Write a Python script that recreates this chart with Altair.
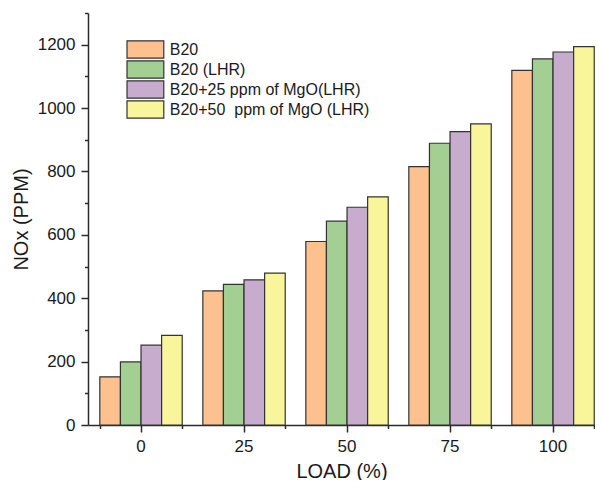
import altair as alt
import pandas as pd

loads = ["0", "25", "50", "75", "100"]
series = ["B20", "B20 (LHR)", "B20+25 ppm of MgO(LHR)", "B20+50\u00a0 ppm of MgO (LHR)"]
b20 = [152, 423, 579, 815, 1119]
b20_lhr = [199, 444, 643, 889, 1155]
mgo25_lhr = [252, 458, 687, 926, 1177]
mgo50_lhr = [283, 479, 720, 950, 1194]
colors = ["#FDC18F", "#A3CF92", "#C8ACCE", "#F9F59B"]
y_major = [0, 200, 400, 600, 800, 1000, 1200]
y_minor = [100, 300, 500, 700, 900, 1100, 1300]

rows = []
for s, vals in zip(series, [b20, b20_lhr, mgo25_lhr, mgo50_lhr]):
    for l, v in zip(loads, vals):
        rows.append({"load": l, "series": s, "nox": v})
df = pd.DataFrame(rows)

FONT = "Liberation Sans"
TXT = "#1a1a1a"
AX = "#2b2b2b"

xscale = alt.Scale(type="band", paddingInner=0.2, paddingOuter=0.061, align=0.94)
yscale = alt.Scale(domain=[0, 1300], nice=False, zero=True)

bars = alt.Chart(df).mark_bar(stroke="#333333", strokeWidth=1.2, opacity=1).encode(
    x=alt.X("load:N", sort=loads, scale=xscale,
            axis=alt.Axis(title="LOAD (%)", labelAngle=0, tickSize=7, tickWidth=1.5,
                          domainWidth=1.5, domainColor=AX, tickColor=AX,
                          labelPadding=6, titlePadding=7, grid=False)),
    xOffset=alt.XOffset("series:N", sort=series,
                        scale=alt.Scale(paddingInner=0, paddingOuter=0)),
    y=alt.Y("nox:Q", scale=yscale, stack=None,
            axis=alt.Axis(title="NOx (PPM)", values=y_major, format="d", tickSize=7,
                          tickWidth=1.5, domainWidth=1.5, domainColor=AX, tickColor=AX,
                          labelPadding=6, titlePadding=6, grid=False)),
    color=alt.Color("series:N", sort=series,
                    scale=alt.Scale(domain=series, range=colors),
                    legend=alt.Legend(title=None, orient="none", legendX=49.4, legendY=28.5,
                                      symbolType="M-4,-1.88H4V1.88H-4Z", symbolSize=84.6,
                                      symbolStrokeColor="#333333", symbolStrokeWidth=1.2,
                                      symbolOpacity=1, labelFont=FONT, labelFontSize=16,
                                      labelColor=TXT, labelOffset=16.4, rowPadding=-5,
                                      padding=0, labelLimit=400)),
)

minor = alt.Chart(df).mark_point(opacity=0).encode(
    x=alt.X("load:N", sort=loads, scale=xscale,
            axis=alt.Axis(orient="bottom", tickBand="extent", labels=False, domain=False,
                          tickSize=3.5, tickWidth=1.5, tickColor=AX, title=None, grid=False)),
    y=alt.Y("nox:Q", scale=yscale,
            axis=alt.Axis(orient="left", values=y_minor, labels=False, domain=False,
                          tickSize=3.5, tickWidth=1.5, tickColor=AX, title=None, grid=False)),
)

chart = alt.layer(bars, minor).resolve_axis(x="independent", y="independent").properties(
    width=507, height=412,
    padding={"left": 80, "top": 5, "right": 0, "bottom": 55},
    autosize=alt.AutoSizeParams(type="none"),
).configure_view(stroke=None).configure_axis(
    labelFont=FONT, labelFontSize=17, labelColor=TXT,
    titleFont=FONT, titleFontSize=20, titleColor=TXT, titleFontWeight="normal",
)

chart.save("out.html", embed_options={"renderer": "svg", "actions": False})
